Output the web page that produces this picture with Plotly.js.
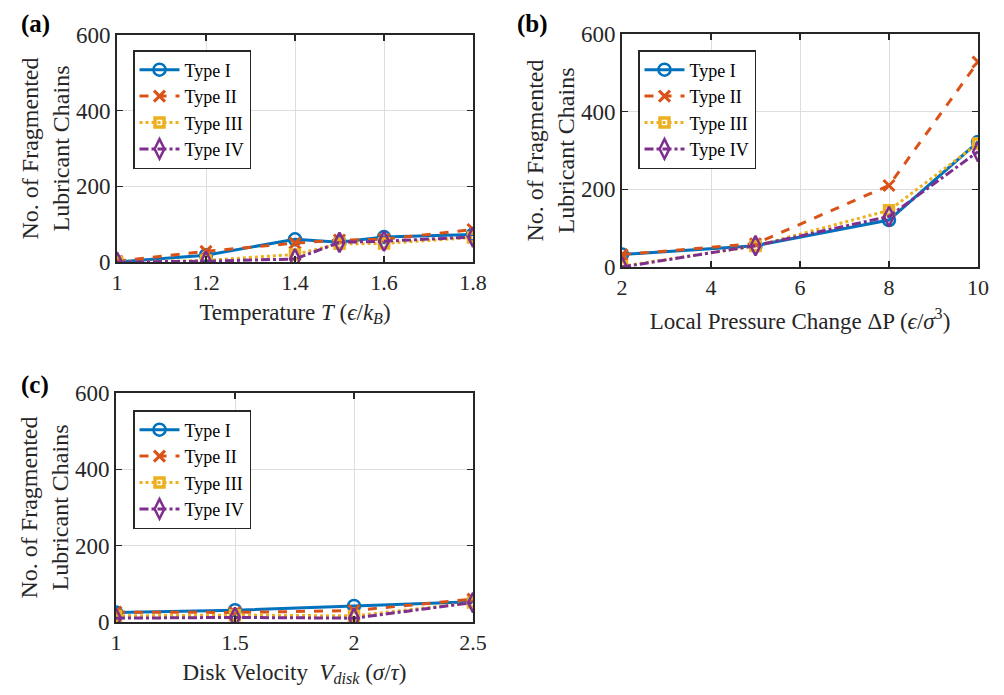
<!DOCTYPE html>
<html>
<head>
<meta charset="utf-8">
<script src="https://cdn.plot.ly/plotly-3.0.1.min.js"></script>
<style>html,body{margin:0;padding:0;background:#fff;}#chart{width:1004px;height:695px;}</style>
</head>
<body>
<div id="chart"></div>
<script>
// ---- data ----
const seriesNames = ["Type I", "Type II", "Type III", "Type IV"];

// (a) Temperature
const tempX = [1, 1.2, 1.4, 1.5, 1.6, 1.8];
const tempTypeI   = [0, 18, 60, 52, 66, 73];
const tempTypeII  = [2, 28, 50, 58, 60, 86];
const tempTypeIII = [0, 4, 20, 48, 49, 65];
const tempTypeIV  = [0, 2, 8, 52, 55, 66];

// (b) Local pressure change
const pressX = [2, 5, 8, 10];
const pressTypeI   = [32, 55, 121, 322];
const pressTypeII  = [32, 60, 210, 528];
const pressTypeIII = [2, 54, 146, 318];
const pressTypeIV  = [0, 55, 130, 297];

// (c) Disk velocity
const velX = [1, 1.5, 2, 2.5];
const velTypeI   = [25, 31, 42, 53];
const velTypeII  = [26, 25, 30, 60];
const velTypeIII = [16, 18, 16, 51];
const velTypeIV  = [10, 12, 10, 51];

const yTicks = [0, 200, 400, 600];
const tempTicks = [1, 1.2, 1.4, 1.6, 1.8];
const pressTicks = [2, 4, 6, 8, 10];
const velTicks = [1, 1.5, 2, 2.5];

// ---- styles ----
const colors = ["#0072BD", "#D95319", "#EDB120", "#7E2F8E"];
const dashes = ["solid", "dash", "dot", "dashdot"];
const symbols = ["circle-open", "x-thin-open", "square-open", "diamond-tall-open"];
const msizes = [12, 11, 9, 14];
const mwidths = [2.5, 3, 3.5, 2.5];
const FONT = "Liberation Serif";

function makeTraces(x, ys, xa, ya, leg) {
  return ys.map((y, i) => ({
    x: x, y: y, xaxis: xa, yaxis: ya, legend: leg,
    name: seriesNames[i], type: "scatter", mode: "lines+markers",
    line: {color: colors[i], width: 3, dash: dashes[i]},
    marker: {symbol: symbols[i], size: msizes[i], color: colors[i],
             line: {color: colors[i], width: mwidths[i]}}
  }));
}

const traces = [].concat(
  makeTraces(tempX, [tempTypeI, tempTypeII, tempTypeIII, tempTypeIV], "x", "y", "legend"),
  makeTraces(pressX, [pressTypeI, pressTypeII, pressTypeIII, pressTypeIV], "x2", "y2", "legend2"),
  makeTraces(velX, [velTypeI, velTypeII, velTypeIII, velTypeIV], "x3", "y3", "legend3")
);

function xAxis(domain, range, ticks, title, anchor, standoff) {
  return {
    domain: domain, range: range, tickvals: ticks, anchor: anchor,
    showline: true, mirror: "ticks", linecolor: "#262626", linewidth: 2,
    ticks: "inside", ticklen: 6, tickwidth: 1.5, tickcolor: "#262626",
    showgrid: true, gridcolor: "#dedede", gridwidth: 1, zeroline: false,
    tickfont: {family: FONT, size: 22, color: "#262626"},
    automargin: true,
    title: {text: title, standoff: standoff, font: {family: FONT, size: 23, color: "#262626"}}
  };
}
function yAxis(domain, anchor) {
  return {
    domain: domain, range: [0, 600], tickvals: yTicks, anchor: anchor,
    showline: true, mirror: "ticks", linecolor: "#262626", linewidth: 2,
    ticks: "inside", ticklen: 6, tickwidth: 1.5, tickcolor: "#262626",
    showgrid: true, gridcolor: "#dedede", gridwidth: 1, zeroline: false,
    tickfont: {family: FONT, size: 23, color: "#262626"},
    automargin: false,
    title: {text: "No. of Fragmented<br>Lubricant Chains", font: {family: FONT, size: 24, color: "#262626"}}
  };
}

const W = 1004, H = 695;
const ML = 20, MR = 20;
const PW = W - ML - MR;
const px = (a, b) => [(a - ML) / PW, (b - ML) / PW];
const pxl = (a) => (a - ML) / PW;
const pyv = (p) => 1 - p / H;
const py = (top, bot) => [pyv(bot), pyv(top)];

function legendAt(x, y) {
  return {x: x, y: y, xanchor: "left", yanchor: "top", bgcolor: "#ffffff",
    bordercolor: "#262626", borderwidth: 1.5,
    font: {family: FONT, size: 18, color: "#000"}, tracegroupgap: 0, itemwidth: 40};
}
function panelLabel(txt, xp, yp) {
  return {text: "<b>" + txt + "</b>", x: pxl(xp), y: pyv(yp), xref: "paper", yref: "paper",
    xanchor: "left", yanchor: "middle", showarrow: false,
    font: {family: FONT, size: 25, color: "#000"}};
}

const layout = {
  width: W, height: H,
  margin: {l: ML, r: MR, t: 0, b: 0},
  paper_bgcolor: "#ffffff", plot_bgcolor: "#ffffff",
  font: {family: FONT, color: "#262626"},
  xaxis: xAxis(px(117, 473), [1, 1.8], tempTicks, "Temperature <i>T</i> (<i>ϵ</i>/<i>k</i><sub><i>B</i></sub>)", "y", 9),
  yaxis: yAxis(py(35, 262), "x"),
  xaxis2: xAxis(px(622, 978), [2, 10], pressTicks, "Local Pressure Change ΔP (<i>ϵ</i>/<i>σ</i><sup>3</sup>)", "y2", 13),
  yaxis2: yAxis(py(34, 267), "x2"),
  xaxis3: xAxis(px(116, 473), [1, 2.5], velTicks, "Disk Velocity  <i>V</i><sub><i>disk</i></sub> (<i>σ</i>/<i>τ</i>)", "y3", 9),
  yaxis3: yAxis(py(393, 622), "x3"),
  legend: legendAt(pxl(133), pyv(50)),
  legend2: legendAt(pxl(638), pyv(50)),
  legend3: legendAt(pxl(133), pyv(410)),
  annotations: [
    panelLabel("(a)", 19, 24),
    panelLabel("(b)", 515, 24),
    panelLabel("(c)", 19, 385)
  ],
  showlegend: true
};

Plotly.newPlot("chart", traces, layout, {displayModeBar: false, staticPlot: true});
</script>
</body>
</html>
